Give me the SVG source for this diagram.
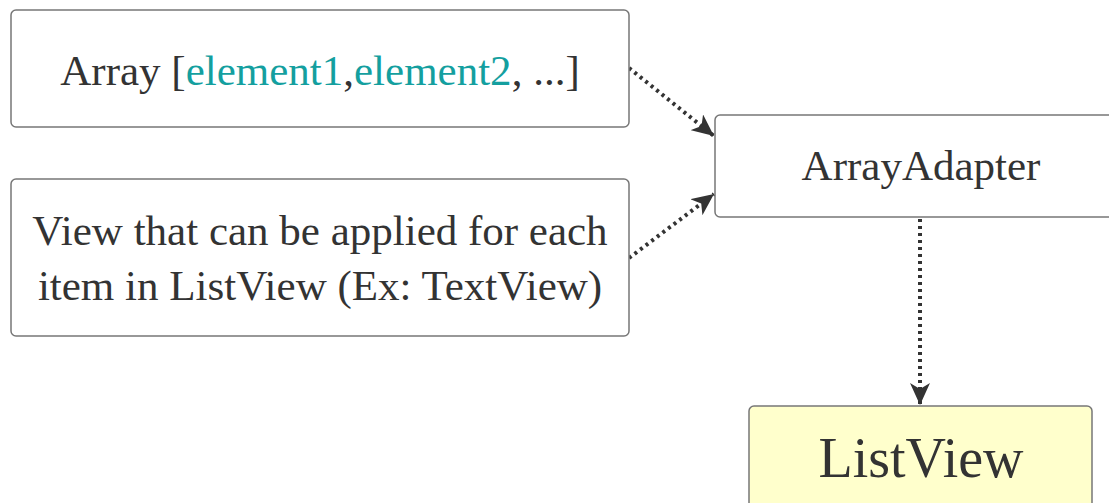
<svg xmlns="http://www.w3.org/2000/svg" width="1109" height="503" viewBox="0 0 1109 503">
<style>
.box{fill:#fff;stroke:#777;stroke-width:1.5}
.t{font-family:"Liberation Serif",serif;fill:#333;font-size:43px;text-anchor:middle}
.hl{fill:#149f9f}
.c{stroke:#333;stroke-width:4;stroke-dasharray:3 4;fill:none}
</style>
<defs>
<marker id="ah" viewBox="0 0 22 20" refX="22" refY="10" markerWidth="22" markerHeight="20" markerUnits="userSpaceOnUse" orient="auto">
<path d="M0,0 L22,10 L0,20 L6,10 z" fill="#333"/>
</marker>
</defs>
<rect width="1109" height="503" fill="#fff"/>
<g id="connectors">
<path class="c" d="M629,68 L714,136" marker-end="url(#ah)"/>
<path class="c" d="M629,258 L714,194" marker-end="url(#ah)"/>
<path class="c" d="M920,219 L920,405" marker-end="url(#ah)"/>
</g>
<g id="array">
<rect class="box" x="11" y="10" width="618" height="117" rx="5"/>
<text class="t" x="320" y="85">Array [<tspan class="hl">element1</tspan>,<tspan class="hl">element2</tspan>, ...]</text>
</g>
<g id="view">
<rect class="box" x="11" y="179" width="618" height="157" rx="5"/>
<text class="t" x="320" y="245">View that can be applied for each</text>
<text class="t" x="320" y="300">item in ListView (Ex: TextView)</text>
</g>
<g id="adapter">
<rect class="box" x="715" y="115" width="420" height="102" rx="5"/>
<text class="t" x="921" y="180">ArrayAdapter</text>
</g>
<g id="listview">
<rect class="box" x="749" y="406" width="343" height="120" rx="5" style="fill:#ffffcc"/>
<text class="t" x="921" y="477" style="font-size:56px">ListView</text>
</g>
</svg>
